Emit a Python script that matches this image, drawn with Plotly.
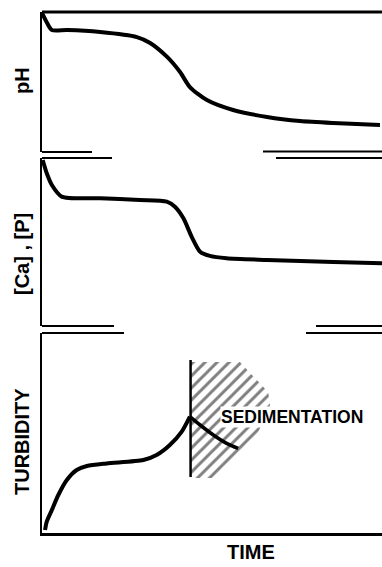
import plotly.graph_objects as go

# ---- data (arbitrary units: time 0-100, each response 0-100) ----
ph_time = [0, 1.5, 2.9, 7.4, 17.1, 27.9, 31.8, 36.8, 40.6, 43.5, 48.5, 56.2, 66.2, 75.9, 85.6, 99.4]
ph_vals = [99.3, 92.1, 87.1, 87.1, 85.7, 82.1, 77.9, 67.9, 57.1, 46.4, 37.1, 30.0, 25.0, 22.1, 20.7, 19.3]

ca_time = [0.2, 1.4, 2.9, 5.8, 17.1, 28.8, 36.7, 39.1, 41.6, 44.0, 46.5, 49.4, 54.3, 66.1, 85.7, 100]
ca_vals = [98.8, 90.9, 83.9, 77.0, 76.0, 75.0, 74.0, 71.0, 64.1, 53.2, 44.2, 41.7, 40.3, 39.3, 38.1, 37.3]

turb_time = [0.9, 1.4, 2.9, 4.8, 7.3, 10.2, 13.2, 19.0, 29.8, 33.7, 37.6, 41.1, 43.5]
turb_vals = [1.5, 5.7, 11.5, 19.0, 26.5, 31.5, 33.5, 34.8, 36.5, 39.0, 44.0, 50.7, 58.2]

sed_time = [43.5, 46.5, 50.4, 54.3, 57.7]
sed_vals = [58.2, 54.0, 49.0, 44.8, 42.3]

onset_time = [43.7, 43.7]
onset_vals = [86.5, 28.0]

hatch_time = [43.5, 58.2, 66.5, 67.1, 63.5, 51.8, 43.5]
hatch_vals = [85.5, 85.5, 70.5, 64.0, 50.0, 27.5, 27.5]

y_labels = ["pH", "[Ca] , [P]", "TURBIDITY"]
x_label = "TIME"
region_label = "SEDIMENTATION"

# ---- figure ----
W, H = 382, 567
ml, mt, mb = 42, 12, 34
plot_h = H - mt - mb
plot_w = W - ml


def py2paper(py):
    return (H - mb - py) / plot_h


def px2paper(px):
    return (px - ml) / plot_w


dom1 = [py2paper(152), 1.0]
dom2 = [py2paper(326), py2paper(158)]
dom3 = [0.0, py2paper(333)]

fig = go.Figure()
line_style = dict(color="black", width=4, shape="spline", smoothing=0.7)

fig.add_trace(go.Scatter(x=ph_time, y=ph_vals, mode="lines", line=line_style,
                         xaxis="x", yaxis="y", hoverinfo="skip"))
fig.add_trace(go.Scatter(x=ca_time, y=ca_vals, mode="lines", line=line_style,
                         xaxis="x2", yaxis="y2", hoverinfo="skip"))
fig.add_trace(go.Scatter(x=hatch_time, y=hatch_vals, mode="lines", fill="toself",
                         line=dict(width=0, color="rgba(0,0,0,0)"),
                         fillcolor="white",
                         fillpattern=dict(shape="/", fgcolor="black", bgcolor="white",
                                          size=8.5, solidity=0.35),
                         xaxis="x3", yaxis="y3", hoverinfo="skip"))
fig.add_trace(go.Scatter(x=turb_time, y=turb_vals, mode="lines", line=line_style,
                         xaxis="x3", yaxis="y3", hoverinfo="skip"))
fig.add_trace(go.Scatter(x=sed_time, y=sed_vals, mode="lines",
                         line=dict(color="black", width=3.5, shape="spline"),
                         xaxis="x3", yaxis="y3", hoverinfo="skip"))
fig.add_trace(go.Scatter(x=onset_time, y=onset_vals, mode="lines",
                         line=dict(color="black", width=2.5),
                         xaxis="x3", yaxis="y3", hoverinfo="skip"))

ax_common = dict(range=[0, 100], showgrid=False, zeroline=False, showticklabels=False,
                 ticks="", fixedrange=True)
y_common = dict(range=[0, 100], showgrid=False, zeroline=False, showticklabels=False,
                ticks="", showline=True, linecolor="black", linewidth=2.5, fixedrange=True)

fig.update_layout(
    width=W, height=H,
    margin=dict(l=ml, r=0, t=mt, b=mb),
    paper_bgcolor="white", plot_bgcolor="white",
    showlegend=False,
    xaxis=dict(domain=[0, 1], anchor="y", **ax_common),
    xaxis2=dict(domain=[0, 1], anchor="y2", **ax_common),
    xaxis3=dict(domain=[0, 1], anchor="y3", showline=True, linecolor="black",
                linewidth=2.5, **ax_common),
    yaxis=dict(domain=dom1, anchor="x", **y_common),
    yaxis2=dict(domain=dom2, anchor="x2", **y_common),
    yaxis3=dict(domain=dom3, anchor="x3", **y_common),
)

# broken frame segments (pixel positions of the original drawing)
segments = [
    (42, 382, 12, 3),
    (42, 92, 152, 2), (263, 382, 151.5, 2),
    (42, 112, 158, 2), (276, 382, 158, 2),
    (42, 114, 326, 2), (316, 382, 326, 2),
    (42, 124, 333, 2), (306, 382, 333, 2),
]
for x0, x1, yy, lw in segments:
    fig.add_shape(type="line", xref="paper", yref="paper",
                  x0=px2paper(x0), x1=px2paper(x1), y0=py2paper(yy), y1=py2paper(yy),
                  line=dict(color="black", width=lw))

font_lbl = dict(family="Liberation Sans, Arial, sans-serif", size=20, color="black")
label_y = [81, 254, 442]
for txt, yy in zip(y_labels, label_y):
    fig.add_annotation(text="<b>%s</b>" % txt, xref="paper", yref="paper",
                       x=px2paper(22), y=py2paper(yy), textangle=-90,
                       showarrow=False, xanchor="center", yanchor="middle", font=font_lbl)

fig.add_annotation(text="<b>%s</b>" % x_label, xref="paper", yref="paper",
                   x=px2paper(251), y=py2paper(552), showarrow=False,
                   xanchor="center", yanchor="middle", font=font_lbl)

fig.add_annotation(text="<b>%s</b>" % region_label, xref="x3", yref="y3",
                   x=73.5, y=58, showarrow=False, xanchor="center", yanchor="middle",
                   bgcolor="white", borderpad=0,
                   font=dict(family="Liberation Sans, Arial, sans-serif", size=17.5,
                             color="black"))

fig.write_html("out.html", config={"displayModeBar": False, "staticPlot": True},
               post_script="document.body.style.margin='0';document.body.style.overflow='hidden';")
